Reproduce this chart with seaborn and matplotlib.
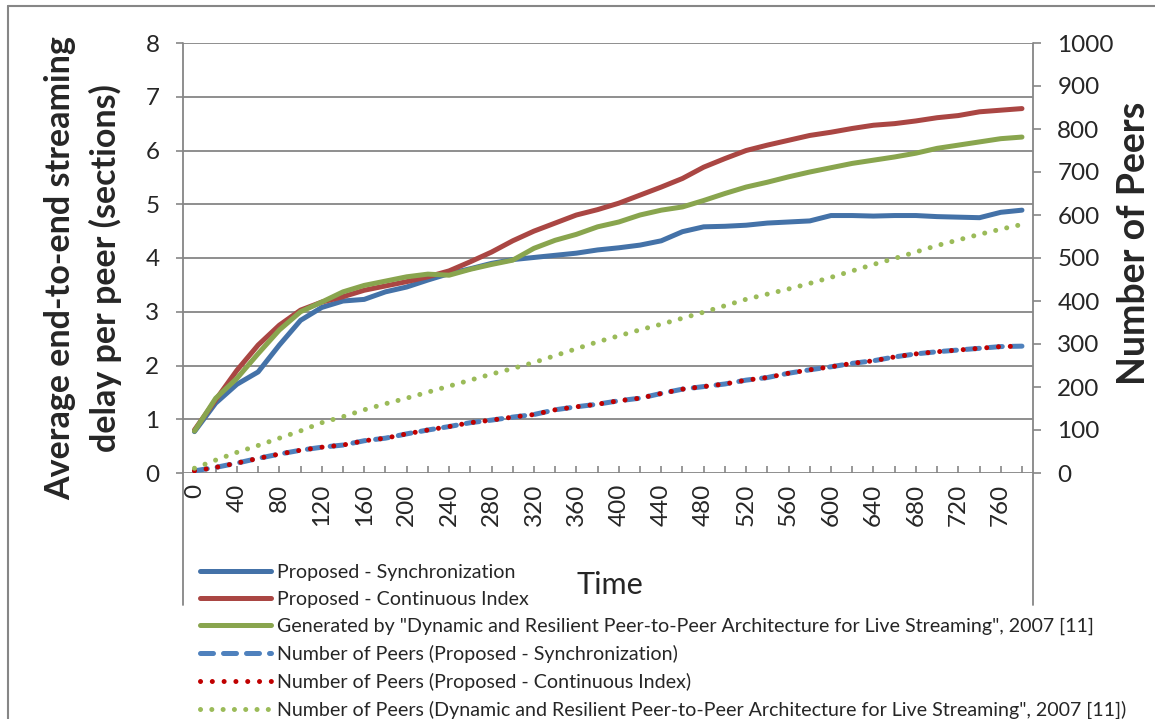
import matplotlib
matplotlib.use("Agg")
import matplotlib.pyplot as plt
from matplotlib.lines import Line2D
import seaborn as sns
import pandas as pd

# Sample times (seconds) and per-series measurements
time = [0, 20, 40, 60, 80, 100, 120, 140, 160, 180,
        200, 220, 240, 260, 280, 300, 320, 340, 360, 380,
        400, 420, 440, 460, 480, 500, 520, 540, 560, 580,
        600, 620, 640, 660, 680, 700, 720, 740, 760, 780]

delay_sync = [0.77, 1.30, 1.65, 1.88, 2.38, 2.84, 3.08, 3.20, 3.23, 3.37,
              3.46, 3.59, 3.71, 3.80, 3.90, 3.97, 4.01, 4.05, 4.09, 4.15,
              4.19, 4.24, 4.32, 4.49, 4.58, 4.59, 4.61, 4.65, 4.67, 4.69,
              4.79, 4.79, 4.78, 4.79, 4.79, 4.77, 4.76, 4.75, 4.85, 4.89]

delay_cont = [0.80, 1.36, 1.91, 2.38, 2.75, 3.03, 3.18, 3.28, 3.40, 3.48,
              3.56, 3.65, 3.76, 3.93, 4.11, 4.32, 4.50, 4.65, 4.80, 4.90,
              5.02, 5.17, 5.32, 5.48, 5.69, 5.85, 6.00, 6.10, 6.19, 6.28,
              6.34, 6.41, 6.47, 6.50, 6.55, 6.61, 6.65, 6.72, 6.75, 6.78]

delay_ref = [0.78, 1.39, 1.76, 2.22, 2.66, 3.00, 3.18, 3.37, 3.49, 3.57,
             3.65, 3.70, 3.68, 3.79, 3.88, 3.96, 4.18, 4.33, 4.44, 4.58,
             4.67, 4.80, 4.89, 4.95, 5.07, 5.20, 5.32, 5.41, 5.51, 5.60,
             5.68, 5.76, 5.82, 5.88, 5.95, 6.04, 6.10, 6.16, 6.22, 6.25]

peers_sync = [5, 13, 23, 34, 44, 53, 60, 65, 75, 81,
              91, 100, 108, 117, 123, 130, 136, 147, 154, 160,
              168, 174, 185, 195, 201, 207, 216, 222, 232, 240,
              247, 255, 261, 270, 277, 282, 286, 290, 294, 295]

peers_cont = [5, 13, 23, 34, 44, 53, 60, 65, 75, 81,
              91, 100, 108, 117, 123, 130, 136, 147, 154, 160,
              168, 174, 185, 195, 201, 207, 216, 222, 232, 240,
              247, 255, 261, 270, 277, 282, 286, 290, 294, 295]

peers_ref = [11, 30, 48, 64, 81, 98, 117, 131, 147, 161,
             174, 188, 202, 216, 230, 243, 257, 273, 289, 305,
             319, 333, 346, 360, 374, 389, 404, 416, 428, 441,
             455, 470, 485, 499, 514, 529, 542, 555, 567, 578]

labels = [
    "Proposed - Synchronization",
    "Proposed - Continuous Index",
    'Generated by "Dynamic and Resilient Peer-to-Peer Architecture for Live Streaming", 2007 [11]',
    "Number of Peers (Proposed - Synchronization)",
    "Number of Peers (Proposed - Continuous Index)",
    'Number of Peers (Dynamic and Resilient Peer-to-Peer Architecture for Live Streaming", 2007 [11])',
]

sns.set_style("white")
plt.rcParams["font.family"] = ["Lato", "DejaVu Sans"]

W, H = 1155, 719
def fx(px):
    return px / W
def fy(py):
    return 1 - py / H

GRAY = "#868686"
TICK_FS = 17.5
fig = plt.figure(figsize=(W / 100, H / 100), dpi=100)
ax = fig.add_axes([fx(183), fy(473), 850 / W, 430 / H])
ax2 = ax.twinx()

df = pd.DataFrame({"pos": range(len(time)), "time": time,
                   "sync": delay_sync, "cont": delay_cont, "ref": delay_ref,
                   "p_sync": peers_sync, "p_cont": peers_cont, "p_ref": peers_ref})

LW = 3.6
solid = [("sync", "#4472A8"), ("cont", "#AA4643"), ("ref", "#89A54E")]
for col, c in solid:
    sns.lineplot(data=df, x="pos", y=col, ax=ax, color=c, lw=LW,
                 solid_capstyle="round", solid_joinstyle="round")

dotted = [("p_sync", "#4F81BD", (2.6, 2.0)),
          ("p_cont", "#C00000", (0.01, 2.35)),
          ("p_ref", "#9BBB59", (0.01, 2.25))]
for col, c, dash in dotted:
    sns.lineplot(data=df, x="pos", y=col, ax=ax2, color=c, lw=LW)
    ln = ax2.lines[-1]
    ln.set_linestyle((0, dash))
    ln.set_dash_capstyle("round")

# primary axis
ax.set_xlim(-0.54, len(time) - 0.48)
ax.set_ylim(0, 8)
ax.set_yticks(range(0, 9))
ax.set_xticks(range(len(time)))
ax.set_xticklabels([str(t) if i % 2 == 0 else "" for i, t in enumerate(time)])
ax.set_xlabel("")
ax.set_ylabel("")
ax.yaxis.grid(True, color=GRAY, lw=1.3)
ax.xaxis.grid(False)
ax.set_axisbelow(True)
ax.tick_params(axis="y", direction="out", length=5, width=1.2, color=GRAY,
               pad=12, labelsize=TICK_FS, left=True)
ax.tick_params(axis="x", direction="in", length=5, width=1.2, color=GRAY,
               pad=8, labelsize=TICK_FS, labelrotation=90, bottom=True)
for s in ax.spines.values():
    s.set_visible(False)

# secondary axis
ax2.set_ylim(0, 1000)
ax2.set_yticks(range(0, 1001, 100))
ax2.set_ylabel("")
ax2.grid(False)
ax2.tick_params(axis="y", direction="out", length=5.5, width=1.2, color=GRAY,
                pad=12, labelsize=TICK_FS, right=True)
for s in ax2.spines.values():
    s.set_visible(False)

# frame lines
for x0 in (183, 1033):
    fig.add_artist(Line2D([fx(x0), fx(x0)], [fy(43), fy(605)], color=GRAY, lw=1.3))
fig.add_artist(Line2D([fx(8), fx(1155)], [fy(6), fy(6)], color=GRAY, lw=1.5))
fig.add_artist(Line2D([fx(8), fx(8)], [fy(6), fy(719)], color=GRAY, lw=1.5))

# axis titles
fig.text(fx(60), fy(268), "Average end-to-end streaming", rotation=90,
         ha="center", va="center", fontsize=24.5, fontweight="bold")
fig.text(fx(105), fy(268), "delay per peer (sections)", rotation=90,
         ha="center", va="center", fontsize=24.5, fontweight="bold")
fig.text(fx(1134), fy(243), "Number of Peers", rotation=90,
         ha="center", va="center", fontsize=27, fontweight="bold")
fig.text(fx(610), fy(585), "Time", ha="center", va="center", fontsize=22)

handles = ax.lines[:3] + ax2.lines[:3]
fig.legend(handles, labels, loc="upper left", bbox_to_anchor=(fx(200), fy(564)),
           frameon=False, borderpad=0, borderaxespad=0, fontsize=14.1,
           handlelength=3.65, handletextpad=0.27, labelspacing=0.5)

fig.savefig("out.png", dpi=100)
